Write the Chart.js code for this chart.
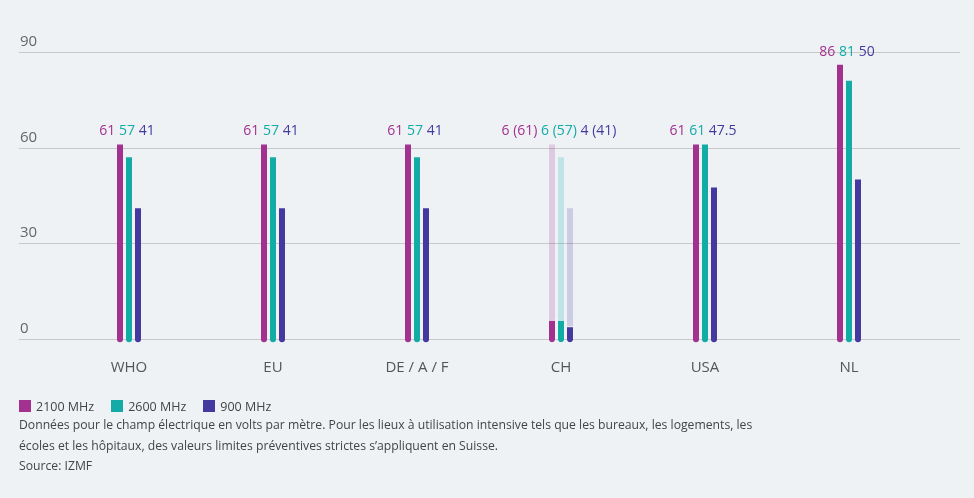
<!DOCTYPE html>
<html lang="fr">
<head>
  <meta charset="UTF-8">
  <title>Valeurs limites</title>
  <style>
    body { margin: 0; background: #eef2f5; font-family: "Open Sans", sans-serif; }
    #wrap { position: relative; width: 974px; height: 420px; }
    #legend { position: absolute; left: 19px; top: 398px; font-size: 12.5px; color: #444; }
    #legend span.item { display: inline-block; margin-right: 17px; }
    #legend i { display: inline-block; width: 12px; height: 12px; vertical-align: -1px; margin-right: 5px; }
    #notes { position: absolute; left: 19px; top: 415px; font-size: 12.2px; line-height: 20.5px; color: #444; }
  </style>
</head>
<body>
  <div id="wrap"><canvas id="chart"></canvas></div>
  <div id="legend"></div>
  <div id="notes">
    Données pour le champ électrique en volts par mètre. Pour les lieux à utilisation intensive tels que les bureaux, les logements, les<br>
    écoles et les hôpitaux, des valeurs limites préventives strictes s’appliquent en Suisse.<br>
    Source: IZMF
  </div>

  <script src="https://cdn.jsdelivr.net/npm/chart.js"></script>
  <script>
    // données
    const categories = ['WHO', 'EU', 'DE / A / F', 'CH', 'USA', 'NL'];
    const seriesNames = ['2100 MHz', '2600 MHz', '900 MHz'];
    const mhz2100 = [61, 61, 61, 6, 61, 86];
    const mhz2600 = [57, 57, 57, 6, 61, 81];
    const mhz900 = [41, 41, 41, 4, 47.5, 50];
    // valeurs générales (entre parenthèses) pour la Suisse
    const ref2100 = [null, null, null, 61, null, null];
    const ref2600 = [null, null, null, 57, null, null];
    const ref900 = [null, null, null, 41, null, null];
    const yTicks = [0, 30, 60, 90];

    const colors = ['#a3318f', '#12aba5', '#44399e'];
    const faded = ['rgba(163,49,143,0.2)', 'rgba(18,171,165,0.2)', 'rgba(68,57,158,0.2)'];
    const values = [mhz2100, mhz2600, mhz900];
    const refs = [ref2100, ref2600, ref900];
    const stacks = ['a', 'b', 'c'];

    const common = {
      barPercentage: 0.667,
      categoryPercentage: 0.1875,
      borderSkipped: false,
      borderRadius: { topLeft: 0, topRight: 0, bottomLeft: 3, bottomRight: 3 },
      base: -1,
      clip: false
    };

    const datasets = [];
    values.forEach((data, s) => {
      datasets.push(Object.assign({}, common, {
        label: seriesNames[s],
        data: data,
        stack: stacks[s],
        order: 0,
        backgroundColor: colors[s],
        borderColor: '#ffffff',
        borderWidth: data.map((v, i) => refs[s][i] !== null ? { top: 1 } : 0)
      }));
    });
    refs.forEach((data, s) => {
      datasets.push(Object.assign({}, common, {
        label: seriesNames[s] + ' ref',
        data: data,
        stack: stacks[s],
        order: 1,
        backgroundColor: faded[s],
        borderWidth: 0
      }));
    });

    // lignes de grille et étiquettes de l'axe Y sur toute la largeur
    const gridPlugin = {
      id: 'fullGrid',
      beforeDatasetsDraw(chart) {
        const { ctx, scales: { y } } = chart;
        ctx.save();
        ctx.strokeStyle = '#c8c8c8';
        ctx.lineWidth = 1;
        ctx.fillStyle = '#666';
        ctx.font = '15px "Open Sans"';
        ctx.textBaseline = 'alphabetic';
        yTicks.forEach(t => {
          const py = Math.round(y.getPixelForValue(t)) + 0.5;
          ctx.beginPath();
          ctx.moveTo(19, py);
          ctx.lineTo(960, py);
          ctx.stroke();
          ctx.fillText(String(t), 20, py - 6.5);
        });
        ctx.restore();
      }
    };

    // valeurs au-dessus des groupes
    const labelPlugin = {
      id: 'groupLabels',
      afterDatasetsDraw(chart) {
        const { ctx, scales: { x, y } } = chart;
        ctx.save();
        ctx.font = '14px "Open Sans"';
        ctx.textBaseline = 'alphabetic';
        categories.forEach((c, i) => {
          const parts = values.map((arr, s) => {
            const r = refs[s][i];
            return r !== null ? arr[i] + ' (' + r + ')' : String(arr[i]);
          });
          const top = Math.max(...values.map(a => a[i]), ...refs.map(a => a[i] || 0));
          const gap = ctx.measureText(' ').width;
          const widths = parts.map(p => ctx.measureText(p).width);
          const total = widths.reduce((a, b) => a + b, 0) + gap * (parts.length - 1);
          let px = x.getPixelForValue(i) - 2 - total / 2;
          const py = y.getPixelForValue(top) - 9;
          parts.forEach((p, s) => {
            ctx.fillStyle = colors[s];
            ctx.fillText(p, px, py);
            px += widths[s] + gap;
          });
        });
        ctx.restore();
      }
    };

    new Chart(document.getElementById('chart'), {
      type: 'bar',
      data: { labels: categories, datasets: datasets },
      options: {
        responsive: true,
        maintainAspectRatio: false,
        animation: false,
        layout: { padding: { left: 57, right: 53, top: 52, bottom: 23 } },
        plugins: { legend: { display: false }, tooltip: { enabled: false } },
        scales: {
          x: {
            stacked: true,
            grid: { display: false, drawTicks: false },
            border: { display: false },
            ticks: { color: '#555', padding: 20, font: { family: 'Open Sans', size: 15 } }
          },
          y: { stacked: false, display: false, min: 0, max: 90 }
        }
      },
      plugins: [gridPlugin, labelPlugin]
    });

    // légende
    const legend = document.getElementById('legend');
    seriesNames.forEach((n, s) => {
      const item = document.createElement('span');
      item.className = 'item';
      item.innerHTML = '<i style="background:' + colors[s] + '"></i>' + n;
      legend.appendChild(item);
    });
  </script>
</body>
</html>
